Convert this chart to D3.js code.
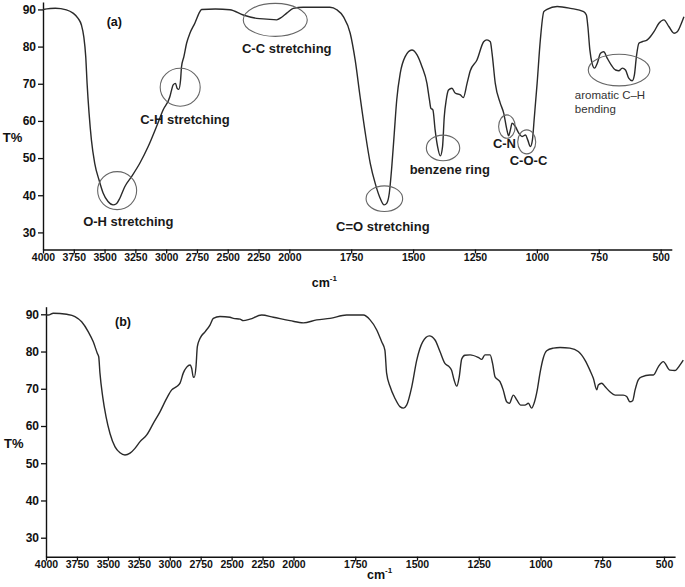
<!DOCTYPE html>
<html><head><meta charset="utf-8">
<script src="https://cdn.jsdelivr.net/npm/d3@7"></script>
<style>
body{margin:0;background:#fff;}
svg{display:block;font-family:"Liberation Sans",Arial,sans-serif;}
</style></head><body>
<svg id="chart" width="685" height="587"></svg>
<script>
// ---------- data ----------
const xTickValues = [4000,3750,3500,3250,3000,2750,2500,2250,2000,1750,1500,1250,1000,750,500];
const yTickValues = [30,40,50,60,70,80,90];
const panelTitles = ["(a)", "(b)"];
const yLabel = "T%";
const xLabel = "cm";
const xLabelSup = "-1";

// [wavenumber (cm-1), transmittance %]
const spectrumA = [
 [4000,90],[3900,90.3],[3810,89.9],[3756,89],[3715,87.6],[3688,85.8],[3669,82.7],[3653,77.3],[3642,70.1],
 [3626,62.1],[3607,54.9],[3580,48.6],[3545,44.1],[3512,40.6],[3472,38.3],[3431,37.4],[3404,37.7],[3376,39.2],
 [3336,42.3],[3281,45],[3214,48.6],[3146,53.1],[3078,58.5],[3024,63],[2970,66.5],[2956,68.3],[2943,69.7],
 [2924,70.1],[2911,68.8],[2897,68.5],[2883,71],[2875,74.6],[2856,77.3],[2834,80.9],[2807,83.6],[2767,86.3],
 [2726,89.4],[2712,90],[2600,90.1],[2482,89.9],[2374,88.5],[2265,87.6],[2184,87.4],[2103,87.2],[2062,87.9],
 [2021,89],[1984,90.3],[1944,90.6],[1880,90.6],[1836,90.6],[1808,89.9],[1781,88],[1754,83.6],[1734,76.4],
 [1714,66.5],[1693,56.7],[1673,48.6],[1653,43.2],[1633,39.2],[1617,37.4],[1606,37.9],[1596,40.6],[1586,47.7],
 [1576,56.7],[1566,65.7],[1552,72.8],[1532,77.3],[1505,79.1],[1484,77.8],[1464,74.6],[1444,70.1],[1434,65.7],
 [1428,63.4],[1420,63],[1411,57.6],[1401,53.1],[1390,50.6],[1381,53.1],[1374,61.2],[1366,65.7],[1357,68.3],
 [1343,68.8],[1330,67.5],[1309,67],[1297,66.3],[1282,70.1],[1269,73.5],[1242,76.4],[1215,81.3],[1202,81.8],
 [1188,81.3],[1181,78.2],[1168,70.1],[1148,64.8],[1134,62.1],[1121,57.6],[1114,56],[1107,57.6],[1100,59.4],
 [1087,58.5],[1073,56.7],[1060,55.8],[1046,56.2],[1037,54.9],[1026,53.1],[1018,54.9],[1010,61.2],[999,70.1],
 [986,81.8],[972,89.4],[959,90],[918,90.8],[864,90.3],[811,89.4],[800,88.5],[794,85.4],[786,79.1],[777,75.5],
 [767,74.2],[756,75.5],[743,78.2],[730,78.6],[716,76.9],[700,75.1],[682,73.7],[669,73.5],[655,74.2],[642,73.7],
 [629,71.5],[615,70.8],[606,72.4],[598,77.3],[588,80.9],[575,81.3],[554,81.8],[541,82.7],[527,84],[507,86.3],
 [487,87.2],[467,85.4],[446,83.6],[433,84],[419,85.8],[406,88]
];

const spectrumB = [
 [4000,89.8],[3981,89.8],[3941,90.3],[3833,90],[3766,89.4],[3712,88],[3658,85.3],[3618,82.6],[3585,79.5],
 [3574,78.6],[3564,74.2],[3542,67.9],[3515,62.5],[3483,58],[3442,54.4],[3402,52.8],[3362,52.2],[3321,52.7],
 [3281,54],[3240,55.8],[3186,57.6],[3133,60.7],[3079,63.8],[3025,67.4],[2984,69.7],[2944,70.6],[2917,71.5],
 [2891,74.2],[2863,75.8],[2836,76.4],[2823,75.5],[2810,73.2],[2802,73.1],[2788,75.9],[2777,81.3],[2756,83.5],
 [2715,85.3],[2675,87.1],[2648,88.9],[2594,89.4],[2513,89.2],[2486,88.9],[2432,88.7],[2406,88.3],[2352,88.7],
 [2257,89.8],[2163,89.2],[2028,88.3],[1960,87.7],[1906,88.5],[1852,88.9],[1785,89.8],[1717,89.8],[1690,88.5],
 [1663,85.8],[1643,82.6],[1630,80.4],[1623,74.2],[1609,70.6],[1589,67.4],[1569,65.2],[1555,64.8],[1542,65.6],
 [1521,70.6],[1501,77.7],[1477,82.6],[1450,84.2],[1427,83.1],[1407,80],[1387,76.8],[1373,76.1],[1360,75],
 [1350,72.4],[1339,70.7],[1329,73.2],[1319,78],[1306,79],[1285,79.1],[1252,78.4],[1238,77.9],[1225,79.1],
 [1204,79.1],[1194,76.8],[1184,73.2],[1164,71.9],[1151,69.7],[1137,66.5],[1126,66.1],[1110,68.3],[1096,67],
 [1080,65.6],[1063,65.6],[1049,66.1],[1036,64.8],[1026,66.1],[1013,69.7],[1002,74.2],[989,78.2],[975,80.2],
 [948,80.9],[921,81.1],[881,80.9],[847,80],[820,77.7],[800,75],[786,72.8],[772,69.7],[766,71],[752,71.5],
 [739,70.6],[719,69.2],[698,68.3],[665,68.3],[651,67.9],[638,66.5],[627,66.8],[617,69.7],[604,72.4],[590,73.2],
 [557,73.7],[543,73.7],[523,75.9],[503,77.3],[476,75],[456,74.9],[435,76.4],[422,77.7]
];

// band assignments for panel (a): label lines and [wavenumber, T%] of the circled band
const bandLabels = [["O-H stretching"],["C-H stretching"],["C-C stretching"],["C=O stretching"],
  ["benzene ring"],["C-N"],["C-O-C"],["aromatic C\u2013H","bending"]];
const bandCenters = [[3398,41.25],[2886,69.07],[2114,87.18],[1616,39.07],[1379,52.74],[1121,58.47],[1041,54.35],[668,73.67]];

// ---------- layout ----------
const svg = d3.select("#chart");
const panels = [
  {data: spectrumA, xr:[43,289.3,671.8], yd:[25.4,92], yr:[249.5,2], xLab:11, title:[106.7,26], tl:[2.7,141.7], cm:[311.7,286.5]},
  {data: spectrumB, xr:[46,293.5,675.1], yd:[24.9,92.04], yr:[556.7,306.7], xLab:11.8, title:[115,326], tl:[4,448], cm:[367,578.5]}
];
// ellipse radii and label offsets (px) for the band annotations
const bandGeom = [
  {rx:19.5, ry:19, dx:-34, dy:35.3, bold:true},
  {rx:20, ry:19, dx:-40, dy:36.7, bold:true},
  {rx:32, ry:16.5, dx:-33.3, dy:33, bold:true},
  {rx:18.3, ry:12.8, dx:-48.3, dy:32.7, bold:true},
  {rx:16.7, ry:12.8, dx:-33.4, dy:26, bold:true},
  {rx:8.3, ry:11.7, dx:-14, dy:21.3, bold:true},
  {rx:9, ry:12, dx:-17, dy:23.5, bold:true},
  {rx:30.8, ry:15.8, dx:-44.2, dy:29.3, bold:false}
];

panels.forEach((p, i) => {
  const x = d3.scaleLinear().domain([4000,2000,455]).range(p.xr);
  const y = d3.scaleLinear().domain(p.yd).range(p.yr);
  const g = svg.append("g");

  // x axis
  const xa = g.append("g").attr("transform", `translate(0,${p.yr[0]})`)
    .call(d3.axisBottom(x).tickValues(xTickValues).tickFormat(d3.format("d")).tickSize(4).tickSizeOuter(0));
  xa.selectAll("text").attr("y", p.xLab).attr("dy", 0)
    .style("font-size","10.5px").style("font-weight","bold").attr("fill","#111");
  // y axis
  const ya = g.append("g").attr("transform", `translate(${p.xr[0]},0)`)
    .call(d3.axisLeft(y).tickValues(yTickValues).tickFormat(d3.format("d")).tickSize(5).tickPadding(2).tickSizeOuter(0));
  ya.selectAll("text").style("font-size","12px").style("font-weight","bold").attr("fill","#111");
  g.selectAll(".domain").attr("stroke","#111").attr("stroke-width",1.4);
  g.selectAll(".tick line").attr("stroke","#111").attr("stroke-width",1.3);

  // spectrum line
  const line = d3.line().x(d => x(d[0])).y(d => y(d[1])).curve(d3.curveMonotoneX);
  g.append("path").datum(p.data).attr("d", line)
    .attr("fill","none").attr("stroke","#2a2a2a").attr("stroke-width",1.4).attr("stroke-linejoin","round");

  // labels
  g.append("text").attr("x", p.title[0]).attr("y", p.title[1]).text(panelTitles[i])
    .style("font-size","12.5px").style("font-weight","bold").attr("fill","#111");
  g.append("text").attr("x", p.tl[0]).attr("y", p.tl[1]).text(yLabel)
    .style("font-size","13px").style("font-weight","bold").attr("fill","#111");
  const cm = g.append("text").attr("x", p.cm[0]).attr("y", p.cm[1])
    .style("font-size","12.5px").style("font-weight","bold").attr("fill","#111");
  cm.append("tspan").text(xLabel);
  cm.append("tspan").attr("dy", -6).style("font-size","8px").text(xLabelSup);

  if (i === 0) {
    bandCenters.forEach((c, k) => {
      const bg = bandGeom[k];
      const cx = x(c[0]), cy = y(c[1]);
      g.append("ellipse").attr("cx", cx).attr("cy", cy).attr("rx", bg.rx).attr("ry", bg.ry)
        .attr("fill","none").attr("stroke","#666").attr("stroke-width",1.1);
      bandLabels[k].forEach((txt, j) => {
        g.append("text").attr("x", cx + bg.dx).attr("y", cy + bg.dy + j*14).text(txt)
          .style("font-size", bg.bold ? "13px" : "11.5px")
          .style("font-weight", bg.bold ? "bold" : "normal")
          .attr("fill", bg.bold ? "#1a1a1a" : "#333");
      });
    });
  }
});
</script>
</body></html>
